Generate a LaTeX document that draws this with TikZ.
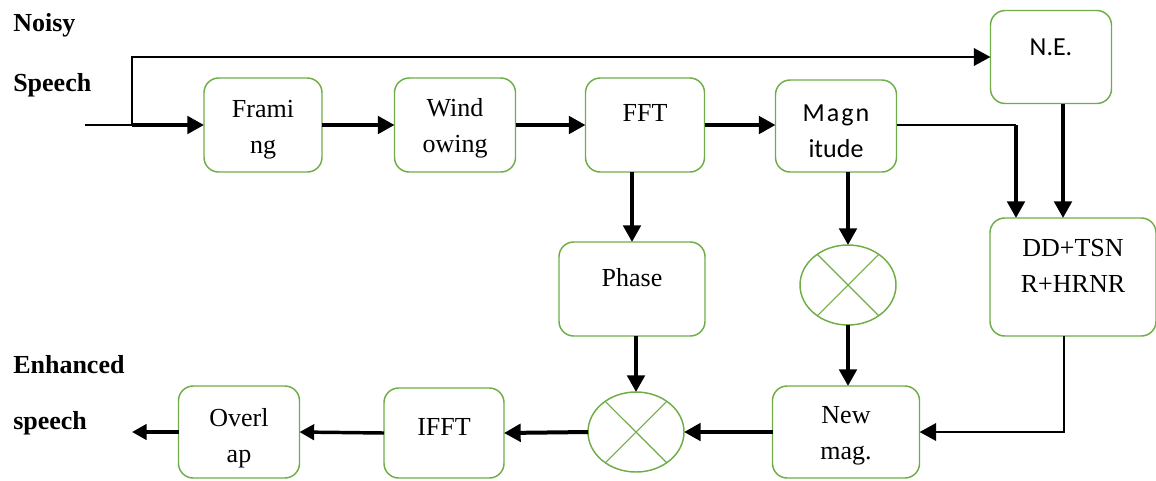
\documentclass[tikz,border=0pt]{standalone}
\usepackage{fontspec}
\setmainfont{Liberation Serif}
\newfontfamily\calibrifont{Carlito}
\usetikzlibrary{arrows.meta,shapes.geometric,calc}
\definecolor{boxgreen}{HTML}{70AD47}
\begin{document}
\begin{tikzpicture}[x=0.75pt,y=-0.75pt,
  box/.style={draw=boxgreen,line width=1.1pt,rounded corners=11pt,inner sep=0pt,outer sep=0pt},
  mult/.style={draw=boxgreen,line width=1.1pt,ellipse,inner sep=0pt,outer sep=0pt,minimum width=72pt,minimum height=60pt},
  cross/.style={draw=boxgreen,line width=0.8pt},
  txt/.style={align=center,inner sep=0pt,font=\fontsize{19.5}{27}\selectfont},
  stxt/.style={align=center,inner sep=0pt,font=\calibrifont\fontsize{19.5}{27}\selectfont},
  lbl/.style={anchor=west,inner sep=0pt,font=\bfseries\fontsize{19.5}{24}\selectfont},
  thk/.style={line width=3pt,-{Triangle[length=12.5pt,width=13pt]}},
  thkb/.style={line width=2.6pt,-{Triangle[length=11pt,width=11.5pt]}},
  thn/.style={line width=1.5pt},
  mid/.style={line width=2pt},
]
\useasboundingbox (0,0) rectangle (1156,480);

% boxes
\node[box,minimum width=88.5pt,minimum height=70.5pt] (fram) at (263,125) {};
\node[box,minimum width=90.75pt,minimum height=70.5pt] (wind) at (455,125) {};
\node[box,minimum width=89.25pt,minimum height=70.5pt] (fft) at (645,125) {};
\node[box,minimum width=90.75pt,minimum height=69pt] (mag) at (836,126) {};
\node[box,minimum width=90.75pt,minimum height=69.75pt] (ne) at (1051,57) {};
\node[box,minimum width=124.5pt,minimum height=88.5pt] (dd) at (1073,277) {};
\node[box,minimum width=109.5pt,minimum height=70.5pt] (phase) at (632,289) {};
\node[mult] (m1) at (848,285) {};
\node[box,minimum width=110.25pt,minimum height=69pt] (newmag) at (846,432) {};
\node[mult] (m2) at (636,432) {};
\node[box,minimum width=90pt,minimum height=67.5pt] (ifft) at (444,433) {};
\node[box,minimum width=90.75pt,minimum height=69pt] (over) at (239,432) {};

% crosses
\draw[cross] (m1.45) -- (m1.225) (m1.135) -- (m1.315);
\draw[cross] (m2.45) -- (m2.225) (m2.135) -- (m2.315);

% texts
\node[txt] (tfram) at (263,130) {Frami\\ng};
\node[txt] (twind) at (455,128) {Wind\\owing};
\node[txt] (tfft) at (645,113) {FFT};
\node[stxt] (tmag) at (836,131) {M\kern1.5pt a\kern1.5pt g\kern1.5pt n\\itude};
\node[stxt] (tne) at (1051,47) {N.E.};
\node[txt] (tdd) at (1073,266) {DD+TSN\\R+HRNR};
\node[txt] (tphase) at (632,278) {Phase};
\node[txt] (tnew) at (846,436) {New\\mag.};
\node[txt] (tifft) at (444,427) {IFFT};
\node[txt] (tover) at (239,438) {Overl\\ap};

\node[lbl] (noisy) at (13,25) {Noisy};
\node[lbl] (speech) at (13,85) {Speech};
\node[lbl] (enh) at (13,365) {Enhanced};
\node[lbl] (spout) at (13,423) {speech};

% connectors
\coordinate (in) at (85,125);
\coordinate (br) at (132,125);
\coordinate (brtop) at (132,57);
\draw[thn] (in) -- (br);
\draw[thk] (br) -- (fram.west);
\draw[mid,-{Triangle[length=12.5pt,width=13pt]}] (br) -- (brtop) -- (ne.west);
\draw[thk] (fram.east) -- (wind.west);
\draw[thk] (wind.east) -- (fft.west);
\draw[thk] (fft.east) -- (mag.west |- fft.east);
\coordinate (k1) at (1016,125);
\draw[thn] (mag.east |- k1) -- (k1);
\draw[thk] (k1) -- (k1 |- dd.north);
\draw[thk] ($(ne.south)+(12,0)$) coordinate (k2) -- (k2 |- dd.north);
\draw[thk] (phase.north |- fft.south) -- (phase.north);
\draw[thk] (m1.north |- mag.south) -- (m1.north);
\draw[thk] (m1.south) -- (m1.south |- newmag.north);
\draw[thk] (m2.north |- phase.south) -- (m2.north);
\draw[mid,-{Triangle[length=12.5pt,width=13pt]}] ($(dd.south)+(-9,0)$) coordinate (k3) |- (newmag.east);
\draw[thk] (newmag.west) -- (m2.east);
\draw[thk] (m2.west) -- (ifft.east);
\draw[thkb] (ifft.west) -- (over.east);
\coordinate (out) at (132,432);
\draw[thkb] (over.west) -- (out);
\end{tikzpicture}
\end{document}
